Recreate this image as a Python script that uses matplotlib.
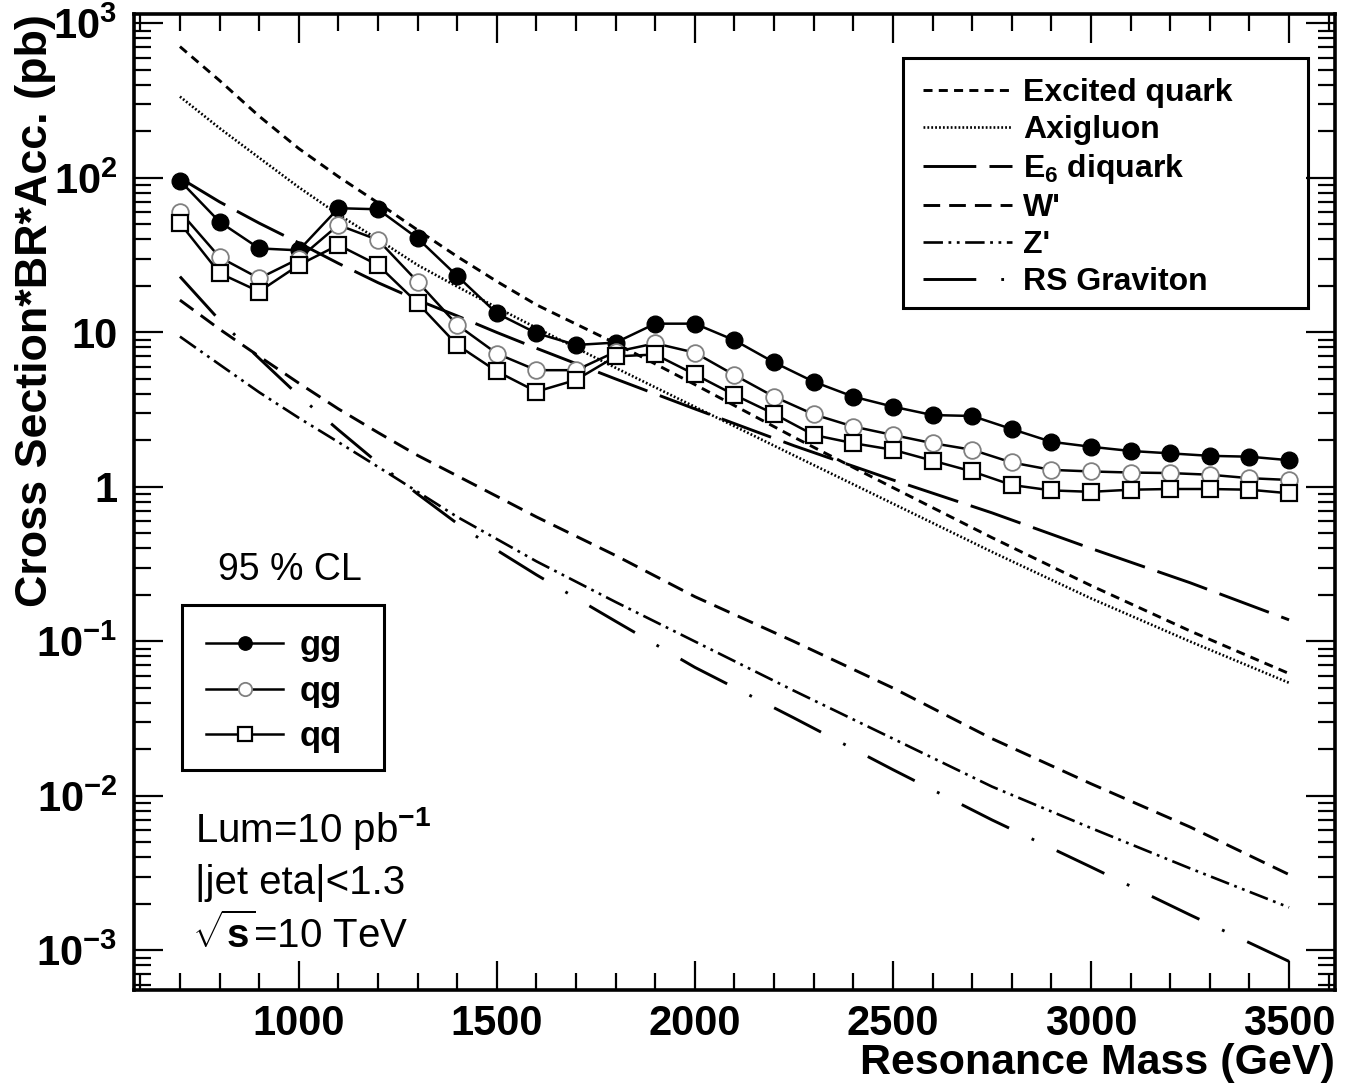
import numpy as np
import matplotlib
matplotlib.use("Agg")
import matplotlib.pyplot as plt
from matplotlib.ticker import MultipleLocator, LogLocator, FuncFormatter, NullFormatter
from matplotlib.patches import Rectangle

plt.rcParams.update({
    "font.family": ["Liberation Sans", "DejaVu Sans"],
    "mathtext.fontset": "custom",
    "mathtext.rm": "Liberation Sans:bold",
    "mathtext.bf": "Liberation Sans:bold",
    "mathtext.it": "Liberation Sans:bold:italic",
    "mathtext.sf": "Liberation Sans:bold",
    "mathtext.default": "rm",
    "lines.scale_dashes": False,
})

# ---------------- data ----------------
# measured 95% CL limits (pb)
mass = [700, 800, 900, 1000, 1100, 1200, 1300, 1400, 1500, 1600, 1700, 1800, 1900, 2000,
        2100, 2200, 2300, 2400, 2500, 2600, 2700, 2800, 2900, 3000, 3100, 3200, 3300, 3400, 3500]
limit_gg = [96, 52, 35, 34, 63.7, 62.7, 40.7, 23.2, 13.3, 9.9, 8.3, 8.6, 11.4, 11.4,
            8.9, 6.4, 4.8, 3.84, 3.31, 2.92, 2.88, 2.37, 1.96, 1.82, 1.71, 1.65, 1.59, 1.57, 1.49]
limit_qg = [60.5, 30.7, 22.4, 30, 49.6, 39.7, 21.3, 11.2, 7.3, 5.7, 5.7, 7.5, 8.5, 7.4,
            5.3, 3.84, 2.95, 2.46, 2.17, 1.92, 1.74, 1.44, 1.29, 1.26, 1.24, 1.23, 1.2, 1.14, 1.11]
limit_qq = [51, 24.2, 18.4, 27.3, 36.8, 27.3, 15.5, 8.3, 5.6, 4.14, 4.93, 7.0, 7.2, 5.35,
            3.94, 2.97, 2.17, 1.92, 1.74, 1.48, 1.26, 1.03, 0.95, 0.93, 0.96, 0.97, 0.97, 0.96, 0.91]

# model predictions (pb)
model_mass = [700, 800, 900, 1000, 1100, 1200, 1300, 1400, 1500, 1600, 1800, 2000,
              2250, 2500, 2750, 3000, 3250, 3500]
excited_quark = [708, 427, 251, 155, 102, 69, 46, 31, 21.4, 15.1, 8.5, 4.6,
                 2.1, 0.99, 0.47, 0.23, 0.117, 0.062]
axigluon = [336, 210, 135, 87, 58, 40, 27.3, 19.8, 14.5, 10.7, 5.9, 3.3,
            1.6, 0.78, 0.38, 0.19, 0.1, 0.054]
e6_diquark = [100, 70, 51, 38, 28, 21, 16.2, 12.8, 10, 7.9, 5.0, 3.2,
              1.85, 1.11, 0.68, 0.4, 0.24, 0.138]
w_prime = [16.2, 10.5, 7.0, 4.7, 3.2, 2.25, 1.6, 1.18, 0.87, 0.64, 0.36, 0.195,
           0.1, 0.05, 0.0235, 0.012, 0.0063, 0.0031]
z_prime = [9.4, 6.2, 4.1, 2.8, 1.95, 1.35, 0.93, 0.64, 0.46, 0.33, 0.18, 0.1,
           0.048, 0.0235, 0.0115, 0.0062, 0.0034, 0.0019]
rs_graviton = [23, 12.0, 6.8, 3.9, 2.34, 1.43, 0.9, 0.58, 0.39, 0.27, 0.135, 0.068,
               0.032, 0.0148, 0.007, 0.00347, 0.0017, 0.00085]

x_ticks = [1000, 1500, 2000, 2500, 3000, 3500]
y_ticks = [1e-3, 1e-2, 1e-1, 1, 10, 1e2, 1e3]

# ---------------- figure ----------------
W, H = 1347, 1091
fig = plt.figure(figsize=(W / 100, H / 100), dpi=100)
ax = fig.add_axes([134 / W, 1 - 990 / H, 1201 / W, 976 / H])
ax.set_yscale("log")
ax.set_xlim(584, 3616)
ax.set_ylim(5.55e-4, 1151)

lw_t = 2.1
h_eq, = ax.plot(model_mass, excited_quark, color="black", lw=lw_t, ls=(0, (6.5, 4.5)), label="Excited quark")
h_ax, = ax.plot(model_mass, axigluon, color="black", lw=1.9, ls=(0, (1.3, 1.5)), label="Axigluon")
h_e6, = ax.plot(model_mass, e6_diquark, color="black", lw=lw_t, ls=(0, (38, 9.5)), label=r"E$_{6}$ diquark")
h_w, = ax.plot(model_mass, w_prime, color="black", lw=lw_t, ls=(0, (12, 6.5)), label="W'")
h_z, = ax.plot(model_mass, z_prime, color="black", lw=1.9, ls=(0, (14, 4, 2, 4, 2, 4)), label="Z'")
h_rs, = ax.plot(model_mass, rs_graviton, color="black", lw=lw_t, ls=(0, (38, 18, 2, 18)), label="RS Graviton")

h_gg, = ax.plot(mass, limit_gg, color="black", lw=1.8, marker="o", ms=12,
                mfc="black", mec="black", label="gg", zorder=5)
h_qg, = ax.plot(mass, limit_qg, color="black", lw=1.8, marker="o", ms=12,
                mfc="white", mec="#808080", mew=1.3, label="qg", zorder=5)
h_qq, = ax.plot(mass, limit_qq, color="black", lw=1.8, marker="s", ms=12,
                mfc="white", mec="black", mew=1.6, label="qq", zorder=5)

# ---------------- axes styling ----------------
for s in ax.spines.values():
    s.set_linewidth(2.6)
ax.xaxis.set_major_locator(plt.FixedLocator(x_ticks))
ax.xaxis.set_minor_locator(MultipleLocator(100))
ax.yaxis.set_major_locator(plt.FixedLocator(y_ticks))
ax.yaxis.set_minor_locator(LogLocator(base=10, subs=np.arange(2, 10), numticks=30))
ax.yaxis.set_minor_formatter(NullFormatter())


def yfmt(v, pos):
    e = int(round(np.log10(v)))
    if e == 1:
        return "10"
    if e == 0:
        return "1"
    return r"$10^{%d}$" % e


ax.yaxis.set_major_formatter(FuncFormatter(yfmt))
ax.tick_params(which="both", direction="in", top=True, right=True, width=1.6)
ax.tick_params(which="major", length=21)
ax.tick_params(which="minor", length=12)
ax.tick_params(axis="x", which="major", pad=10, labelsize=30)
ax.tick_params(axis="y", which="major", pad=12, labelsize=30)
for lab in ax.get_xticklabels() + ax.get_yticklabels():
    lab.set_fontweight("bold")

fig.text(36 / W, 1 - 14 / H, "Cross Section*BR*Acc. (pb)", rotation=90,
         ha="center", va="top", fontsize=32.3, fontweight="bold")
fig.text(1335 / W, 1 - 1063 / H, "Resonance Mass (GeV)", ha="right", va="center",
         fontsize=31, fontweight="bold")


def fx(px):
    return (px - 134) / 1201


def fy(py):
    return (990 - py) / 976


# model legend
leg1 = ax.legend(handles=[h_eq, h_ax, h_e6, h_w, h_z, h_rs], loc="upper left",
                 bbox_to_anchor=(fx(903), fy(58)), frameon=False,
                 prop={"size": 23, "weight": "bold"}, handlelength=2.8,
                 handletextpad=0.35, borderpad=0.62, labelspacing=0.22, borderaxespad=0)
ax.add_artist(leg1)
ax.add_patch(Rectangle((fx(903), fy(308)), fx(1308) - fx(903), fy(58) - fy(308),
                       transform=ax.transAxes, fill=False, lw=2.2, ec="black",
                       zorder=6, clip_on=False))

# limit legend
leg2 = ax.legend(handles=[h_gg, h_qg, h_qq], loc="upper left",
                 bbox_to_anchor=(fx(182), fy(605)), frameon=False,
                 prop={"size": 25, "weight": "bold"}, handlelength=2.2,
                 handletextpad=0.5, borderpad=0.7, labelspacing=0.36,
                 borderaxespad=0, markerscale=0.8)
ax.add_patch(Rectangle((fx(182), fy(770)), fx(384) - fx(182), fy(605) - fy(770),
                       transform=ax.transAxes, fill=False, lw=2.2, ec="black",
                       zorder=6, clip_on=False))

ax.text(fx(290), fy(570), "95 % CL", transform=ax.transAxes, ha="center", va="center",
        fontsize=27)
ax.text(fx(195), fy(828), r"Lum=10 pb$^{-1}$", transform=ax.transAxes, ha="left",
        va="center", fontsize=29)
ax.text(fx(195), fy(883), "|jet eta|<1.3", transform=ax.transAxes, ha="left",
        va="center", fontsize=29)
ax.text(fx(192), fy(935), r"$\sqrt{s}$=10 TeV", transform=ax.transAxes, ha="left",
        va="center", fontsize=29)

fig.savefig("out.png", dpi=100)
